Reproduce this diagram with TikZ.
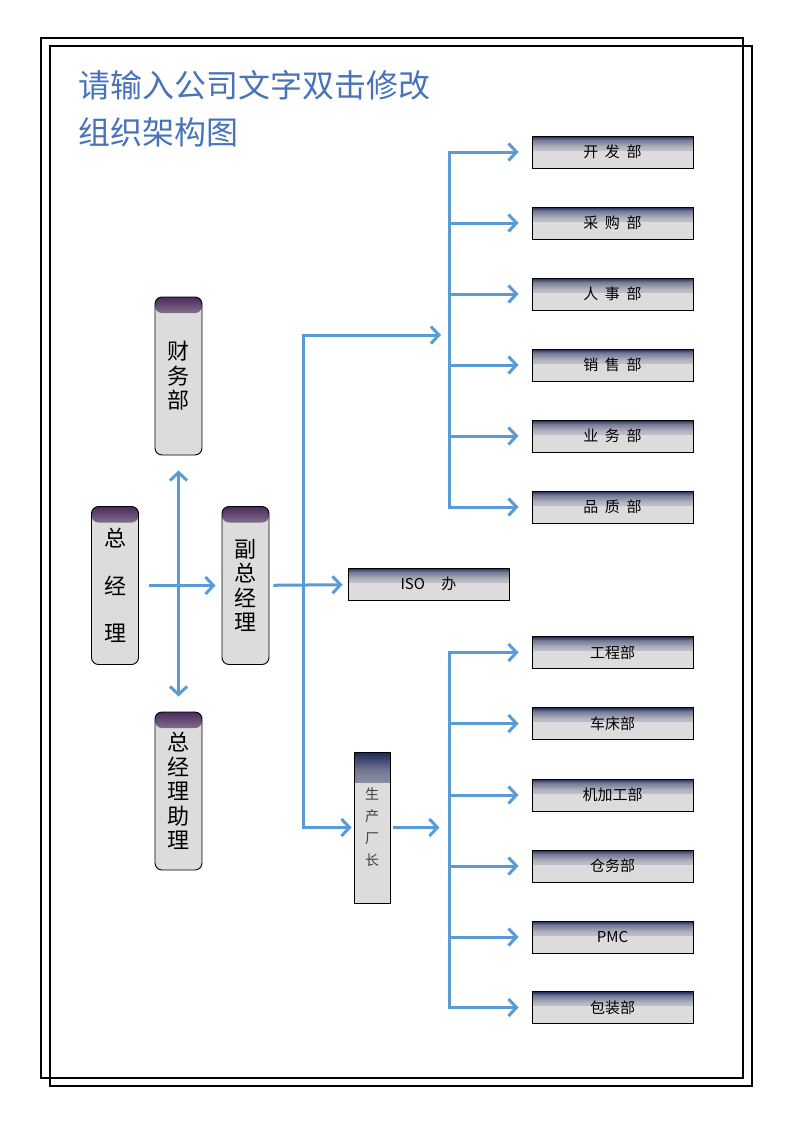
\documentclass[tikz,border=0pt]{standalone}
\usepackage{fontspec}
\setmainfont{Noto Sans CJK SC}
\usetikzlibrary{arrows.meta}

\definecolor{linkblue}{HTML}{5B9BD5}
\definecolor{boxgray}{HTML}{DCDCDC}
\definecolor{navytop}{HTML}{1C2556}
\definecolor{plumtop}{HTML}{4A2A5C}
\definecolor{titleblue}{HTML}{4673BA}
\newcommand{\dgap}{\hspace{0.45em}}

% top edge fades: dark rim, quick fade into the box gray
\pgfdeclareverticalshading{navyfade}{100bp}{color(0bp)=(boxgray); color(40bp)=(boxgray);
  color(58bp)=(navytop!22!boxgray); color(69bp)=(navytop!55!boxgray);
  color(75bp)=(navytop); color(100bp)=(navytop)}
\pgfdeclareverticalshading{plumfade}{100bp}{color(0bp)=(boxgray); color(40bp)=(boxgray);
  color(58bp)=(plumtop!22!boxgray); color(69bp)=(plumtop!55!boxgray);
  color(75bp)=(plumtop); color(100bp)=(plumtop)}

\tikzset{
  line/.style={draw=linkblue,line width=3pt},
  link/.style={line,-{Straight Barb[length=8pt,width=17pt]}},
  topshade/.style 2 args={path picture={
      \shade[shading=#1]
        (path picture bounding box.north west)
        rectangle ([yshift=-#2]path picture bounding box.north east);}},
  dept/.style={draw,line width=0.9pt,fill=boxgray,minimum width=161pt,
    minimum height=32pt,inner sep=0pt,font=\fontsize{15}{17}\selectfont,
    topshade={navyfade}{14pt}},
  role/.style={draw,line width=0.9pt,fill=boxgray,rounded corners=7pt,
    minimum width=47pt,minimum height=158pt,inner sep=0pt,align=center,
    font=\fontsize{22}{24.5}\selectfont,topshade={plumfade}{16pt}},
}

\begin{document}
\begin{tikzpicture}[x=1pt,y=-1pt]
\useasboundingbox (0,0) rectangle (793,1122);
% page frame
\draw[line width=2pt] (41,38) rectangle (743,1078);
\draw[line width=2pt] (50,46) rectangle (752,1086);

% title
\node[anchor=west,text=titleblue,font=\fontsize{32}{36}\selectfont,inner sep=0pt]
  (title) at (78,85) {请输入公司文字双击修改};
\node[anchor=west,text=titleblue,font=\fontsize{32}{36}\selectfont,inner sep=0pt]
  (subtitle) at (78,132) {组织架构图};

% left part
\node[role] (fin) at (178.5,376) {财\\务\\部};
\node[role,font=\fontsize{22}{47.5}\selectfont] (gm) at (115,585.5) {总\\经\\理};
\node[role] (vp) at (245.5,585.5) {副\\总\\经\\理};
\node[role] (assist) at (178.5,791) {总\\经\\理\\助\\理};

\draw[line,{Straight Barb[length=8pt,width=17pt]}-{Straight Barb[length=8pt,width=17pt]},
  shorten <=15pt,shorten >=15pt] (fin) -- (assist);
\draw[link,shorten <=10pt,shorten >=6pt] (gm) -- (vp);

% middle part
\node[dept,minimum width=161pt] (iso) at (428.5,584) {ISO\hspace{1.1em}办};
\node[draw,line width=0.9pt,fill=boxgray,minimum width=36pt,minimum height=151pt,
  inner sep=0pt,align=center,text=black!75,font=\fontsize{14}{22}\selectfont,
  topshade={navyfade}{30pt}] (prod) at (372,827.5) {生\\产\\厂\\长};

\coordinate (vpfork) at (303,585);
\coordinate (uphub) at (441,335);
\draw[link,shorten <=4pt,shorten >=5pt] (vp) -- (iso);
\draw[link] (vpfork) |- (uphub);
\draw[link,shorten >=2pt] (vpfork) |- (prod.west);
\draw[link,shorten <=3pt] (prod.east) -- ++(49,0) coordinate (lowhub);

% right part
\foreach \name/\txt/\y in {dev/开\dgap 发\dgap 部/152, buy/采\dgap 购\dgap 部/223,
    hr/人\dgap 事\dgap 部/294, sale/销\dgap 售\dgap 部/365,
    biz/业\dgap 务\dgap 部/436, qc/品\dgap 质\dgap 部/507,
    eng/工程部/652.5, lathe/车床部/723.5, mach/机加工部/795,
    store/仓务部/866, pmc/PMC/937, pack/包装部/1007.5}
  \node[dept] (\name) at (612.5,\y) {\txt};

\coordinate (upspine) at (449,335);
\coordinate (lowspine) at (449,828);
\draw[line,line cap=rect] (upspine |- dev.west) -- (upspine |- qc.west);
\draw[line,line cap=rect] (lowspine |- eng.west) -- (lowspine |- pack.west);
\foreach \name in {dev,buy,hr,sale,biz,qc}
  \draw[link] (upspine |- \name.west) -- ([xshift=-13pt]\name.west);
\foreach \name in {eng,lathe,mach,store,pmc,pack}
  \draw[link] (lowspine |- \name.west) -- ([xshift=-13pt]\name.west);
\end{tikzpicture}
\end{document}
